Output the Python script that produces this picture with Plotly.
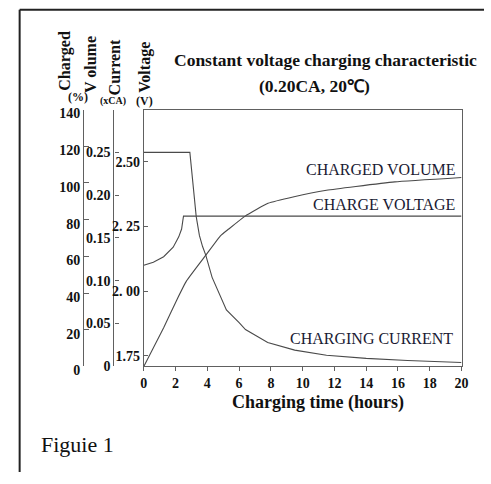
import plotly.graph_objects as go

W, H = 491, 484

# ---------------- data ----------------
time_ticks = [0, 2, 4, 6, 8, 10, 12, 14, 16, 18, 20]

current_t = [0, 2.9, 3.3, 3.5, 3.7, 3.9, 4.3, 5.2, 6.0, 6.4, 7.8, 9.5, 11.5, 14.0, 16.6, 20]
current_ca = [0.25, 0.25, 0.175, 0.153, 0.14, 0.13, 0.104, 0.066, 0.051, 0.043, 0.028,
              0.019, 0.013, 0.0094, 0.0068, 0.0045]

voltage_t = [0, 0.6, 1.25, 1.85, 2.2, 2.38, 2.45, 2.5, 20]
voltage_v = [2.10, 2.112, 2.133, 2.17, 2.21, 2.24, 2.27, 2.29, 2.29]

volume_t = [0, 1.25, 2.07, 2.69, 3.92, 4.84, 5.35, 6.38, 7.82, 9.46, 11.5, 13.35, 15.8, 20]
volume_pct = [0, 21.1, 36.1, 46.6, 60.8, 71.3, 74.9, 81.9, 88.9, 92.5, 96.0, 98.1, 100.6, 103.0]

volt_ticks = [1.75, 2.0, 2.25, 2.5]
volt_labels = ["1.75", "2. 00", "2. 25", "2.50"]
curr_ticks = [0, 0.05, 0.10, 0.15, 0.20, 0.25]
curr_labels = ["0", "0.05", "0.10", "0.15", "0.20", "0.25"]
pct_ticks = [0, 20, 40, 60, 80, 100, 120, 140]


def px(x):
    return x / W


def py(y):
    return 1 - y / H


SERIF = "Liberation Serif"
LINE_C = "#4a4a4a"
AXIS_C = "#606060"
TXT_C = "#111111"

tickfont = dict(family=SERIF, size=14, color=TXT_C, weight="bold")

fig = go.Figure()
fig.add_trace(go.Scatter(x=current_t, y=current_ca, mode="lines", yaxis="y2",
                         line=dict(color=LINE_C, width=1.1), hoverinfo="skip"))
fig.add_trace(go.Scatter(x=voltage_t, y=voltage_v, mode="lines", yaxis="y",
                         line=dict(color=LINE_C, width=1.1), hoverinfo="skip"))
fig.add_trace(go.Scatter(x=volume_t, y=volume_pct, mode="lines", yaxis="y3",
                         line=dict(color=LINE_C, width=1.1, shape="spline", smoothing=0.4),
                         hoverinfo="skip"))

xd = [px(143), px(468)]
yd = [py(375), py(110)]

fig.update_layout(
    width=W, height=H,
    margin=dict(l=0, r=0, t=0, b=0),
    paper_bgcolor="white", plot_bgcolor="white",
    showlegend=False,
    xaxis=dict(domain=xd, range=[0, 20], tickvals=time_ticks, showgrid=False, zeroline=False,
               showline=True, linecolor=AXIS_C, linewidth=1.2, mirror=True,
               ticks="outside", ticklen=4, tickcolor=AXIS_C, tickfont=tickfont),
    yaxis=dict(domain=yd, range=[1.709, 2.702], tickvals=volt_ticks, ticktext=volt_labels,
               showgrid=False, zeroline=False, showline=True, linecolor=AXIS_C, linewidth=1.2,
               mirror=True, ticks="inside", ticklen=4, tickcolor=AXIS_C, tickfont=tickfont),
    yaxis2=dict(overlaying="y", anchor="free", position=px(112), range=[0, 0.30],
                tickvals=curr_ticks, ticktext=curr_labels, showgrid=False, zeroline=False,
                showline=True, linecolor=AXIS_C, linewidth=1.2, ticks="inside", ticklen=4,
                tickcolor=AXIS_C, tickfont=tickfont),
    yaxis3=dict(overlaying="y", anchor="free", position=px(81), range=[0, 140],
                tickvals=pct_ticks, showgrid=False, zeroline=False,
                showline=True, linecolor=AXIS_C, linewidth=1.2, ticks="inside", ticklen=5,
                tickcolor=AXIS_C, tickfont=tickfont, ticklabelshift=4),
)

ann = []


def add_text(text, x, y, size, bold=False, angle=0, xanchor="center", yanchor="middle",
             color=TXT_C):
    ann.append(dict(text=text, x=px(x), y=py(y), xref="paper", yref="paper",
                    showarrow=False, textangle=angle, xanchor=xanchor, yanchor=yanchor,
                    font=dict(family=SERIF, size=size, color=color,
                              weight="bold" if bold else "normal")))


# title
add_text("Constant voltage charging characteristic", 329, 59, 17.5, bold=True)
add_text("(0.20CA, 20℃)", 318, 86, 17.5, bold=True)

# axis titles (vertical)
add_text("Charged", 63, 60, 16, bold=True, angle=-90)
add_text("V olume", 88, 64, 16, bold=True, angle=-90)
add_text("Current", 113, 66, 16, bold=True, angle=-90)
add_text("Voltage", 144, 66, 16, bold=True, angle=-90)
add_text("(%)", 76, 97, 12, bold=True)
add_text("(xCA)", 112, 101, 10, bold=True)
add_text("(V)", 144, 101, 12, bold=True)

# x axis title
add_text("Charging time (hours)", 321, 412, 18, bold=True)

# curve labels
add_text("CHARGED VOLUME", 463, 172, 16, xanchor="right", color="#1a1a33")
add_text("CHARGE VOLTAGE", 463, 208, 16, xanchor="right", color="#1a1a33")
add_text("CHARGING CURRENT", 461, 346, 16, xanchor="right", color="#1a1a33")

# caption
add_text("Figuie 1", 36, 456, 22, xanchor="left")

fig.update_layout(annotations=ann)

# outer frame (left and top edges)
fig.add_shape(type="line", xref="paper", yref="paper", x0=px(16), y0=py(7), x1=1, y1=py(7),
              line=dict(color="#222222", width=2))
fig.add_shape(type="line", xref="paper", yref="paper", x0=px(16), y0=py(7), x1=px(16), y1=0,
              line=dict(color="#222222", width=2))

fig.write_html("out.html", config=dict(displayModeBar=False),
               post_script="document.body.style.margin='0px';document.body.style.overflow='hidden';")
